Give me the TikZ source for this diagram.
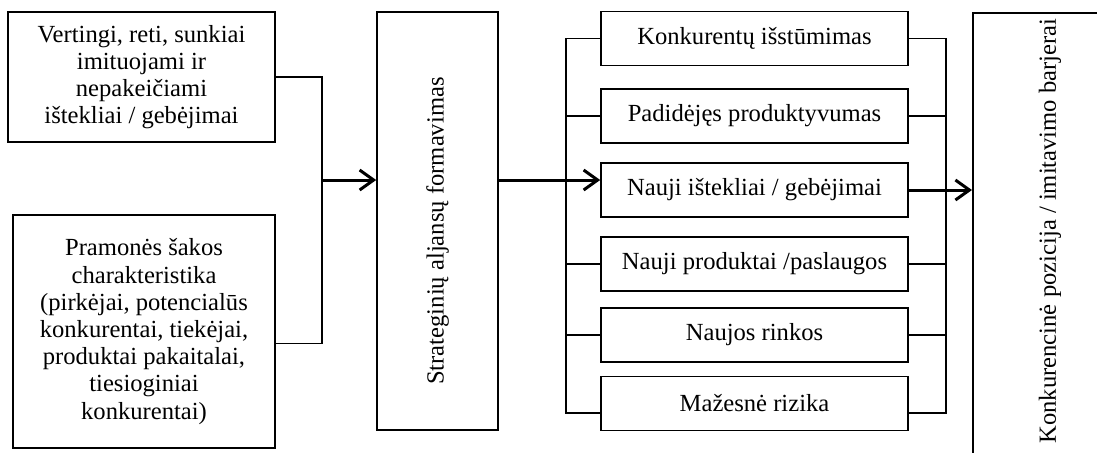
\documentclass[tikz,border=0pt]{standalone}
\usepackage{fontspec}
\setmainfont{Liberation Serif}
\usetikzlibrary{arrows.meta, positioning}
\tikzset{
    txtbox/.style={
        draw=black,
        line width=0.8pt,
        align=center,
        inner sep=2pt,
        font=\fontsize{12.3}{13.6}\selectfont
    },
    outbox/.style={
        txtbox,
        minimum width=153.5pt,
        minimum height=27pt
    },
    plaintext/.style={
        align=center,
        inner sep=0pt,
        font=\fontsize{12.3}{13.6}\selectfont
    },
    flowline/.style={
        line width=0.8pt,
        black
    },
    bigarrow/.style={
        -{Straight Barb[length=7pt,width=10pt]},
        line width=1.5pt,
        black
    }
}
\begin{document}
\begin{tikzpicture}[x=0.5pt, y=-0.5pt]
    \clip (0,0) rectangle (1097,452);
    % inputs
    \node[txtbox, minimum width=133.5pt, minimum height=65pt] (res) at (141.5,77) {Vertingi, reti, sunkiai\\imituojami ir\\nepakeičiami\\ištekliai / gebėjimai};
    \node[txtbox, minimum width=131pt, minimum height=116.5pt] (ind) at (144,331.5) {Pramonės šakos\\charakteristika\\(pirkėjai, potencialūs\\konkurentai, tiekėjai,\\produktai pakaitalai,\\tiesioginiai\\konkurentai)};

    % alliance
    \node[txtbox, minimum width=60.5pt, minimum height=209pt] (sa) at (437.5,221) {\rotatebox{90}{Strateginių aljansų formavimas\hspace{10pt}}};

    % outcomes
    \node[outbox] (o1) at (754.5,38.5) {Konkurentų išstūmimas};
    \node[outbox] (o2) at (754.5,116) {Padidėjęs produktyvumas};
    \node[outbox] (o3) at (754.5,190) {Nauji ištekliai / gebėjimai};
    \node[outbox] (o4) at (754.5,264) {Nauji produktai /paslaugos};
    \node[outbox] (o5) at (754.5,335) {Naujos rinkos};
    \node[outbox] (o6) at (754.5,403.5) {Mažesnė rizika};

    % position
    \node[txtbox, anchor=north west, minimum width=100pt, minimum height=240pt] (pos) at (972,12) {};
    \node[plaintext] (postxt) at (1050,231) {\rotatebox{90}{Konkurencinė pozicija / imitavimo barjerai}};

    \coordinate (jin) at (322,180);
    \coordinate (jl) at (566,180);
    \coordinate (jr) at (946,190);

    \draw[flowline] (res.east) -| (jin);
    \draw[flowline] ([yshift=-6pt]ind.east) -| (jin);
    \draw[bigarrow] (jin) -- (sa.west |- jin);
    \draw[bigarrow] (sa.east |- jl) -- (o3.west |- jl);

    % left bracket
    \draw[flowline] (o1.west) -| (jl);
    \draw[flowline] ([yshift=-4.75pt]o6.west) -| (jl);
    \foreach \b in {o2,o4,o5}
        \draw[flowline] (\b.west) -- (\b.west -| jl);

    % right bracket
    \draw[flowline] (o1.east) -| (jr) |- ([yshift=-4.75pt]o6.east);
    \foreach \b in {o2,o4,o5}
        \draw[flowline] (\b.east) -- (\b.east -| jr);
    \draw[bigarrow] (o3.east) -- (o3.east -| pos.west);
\end{tikzpicture}
\end{document}
